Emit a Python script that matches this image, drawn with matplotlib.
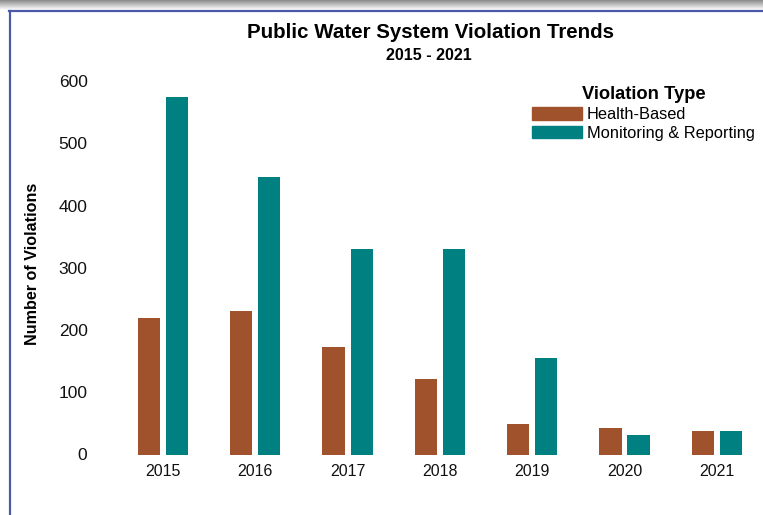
import numpy as np
import matplotlib
matplotlib.use('Agg')
import matplotlib.pyplot as plt
from matplotlib.patches import Patch
from matplotlib.lines import Line2D

plt.rcParams['font.family'] = ['Liberation Sans', 'DejaVu Sans']

# data
years = ['2015', '2016', '2017', '2018', '2019', '2020', '2021']
health_based = [220, 230, 172, 121, 49, 42, 38]
monitoring = [575, 445, 330, 330, 155, 31, 38]

brown = '#A0522D'
teal = '#008080'

W, H = 763, 515
fig = plt.figure(figsize=(W / 100, H / 100), dpi=100)

# frame around the picture: grey shadow on top, blue rule top and left
grad = np.linspace(0.55, 1.0, 20).reshape(-1, 1)
sh = fig.add_axes([0, 1 - 10 / H, 1, 10 / H])
sh.imshow(np.dstack([grad, grad, grad]), aspect='auto', extent=[0, 1, 0, 1])
sh.axis('off')
fig.add_artist(Line2D([9 / W, 1], [1 - 10.5 / H] * 2, color='#4a5aa8', lw=1.6))
fig.add_artist(Line2D([9.5 / W] * 2, [0, 1 - 10.5 / H], color='#4a5aa8', lw=1.6))

left_px, right_px = 100, 760
ax = fig.add_axes([left_px / W, (H - 454.5) / H, (right_px - left_px) / W, (454.5 - 81) / H])

x = np.arange(len(years))
step = 92.3
ax.bar(x - 0.152, health_based, width=0.24, color=brown, label='Health-Based')
ax.bar(x + 0.152, monitoring, width=0.24, color=teal, label='Monitoring & Reporting')

ax.set_xlim((left_px - 163) / step, (right_px - 163) / step)
ax.set_ylim(0, 600)
ax.set_yticks(range(0, 601, 100))
ax.set_xticks(x)
ax.set_xticklabels(years)
ax.tick_params(length=0, colors='#111111')
ax.tick_params(axis='y', pad=9, labelsize=12.5)
ax.tick_params(axis='x', pad=7, labelsize=11.5)
for s in ax.spines.values():
    s.set_visible(False)

fig.text(33 / W, 1 - 264 / H, 'Number of Violations', rotation=90, fontsize=11.6,
         fontweight='bold', ha='center', va='center')
fig.text(430 / W, 1 - 33 / H, 'Public Water System Violation Trends', fontsize=14.8,
         fontweight='bold', ha='center', va='center')
fig.text(429 / W, 1 - 55 / H, '2015 - 2021', fontsize=11.6,
         fontweight='bold', ha='center', va='center')

leg = fig.legend(handles=[Patch(color=brown, label='Health-Based'),
                          Patch(color=teal, label='Monitoring & Reporting')],
                 title='Violation Type', loc='upper left',
                 bbox_to_anchor=(521 / W, 1 - 75 / H), frameon=False,
                 fontsize=11.8, handlelength=3.05, handleheight=0.8,
                 handletextpad=0.25, labelspacing=0.22, borderpad=0.2,
                 title_fontproperties={'weight': 'bold', 'size': 13.2})

fig.savefig('out.png', dpi=100)
